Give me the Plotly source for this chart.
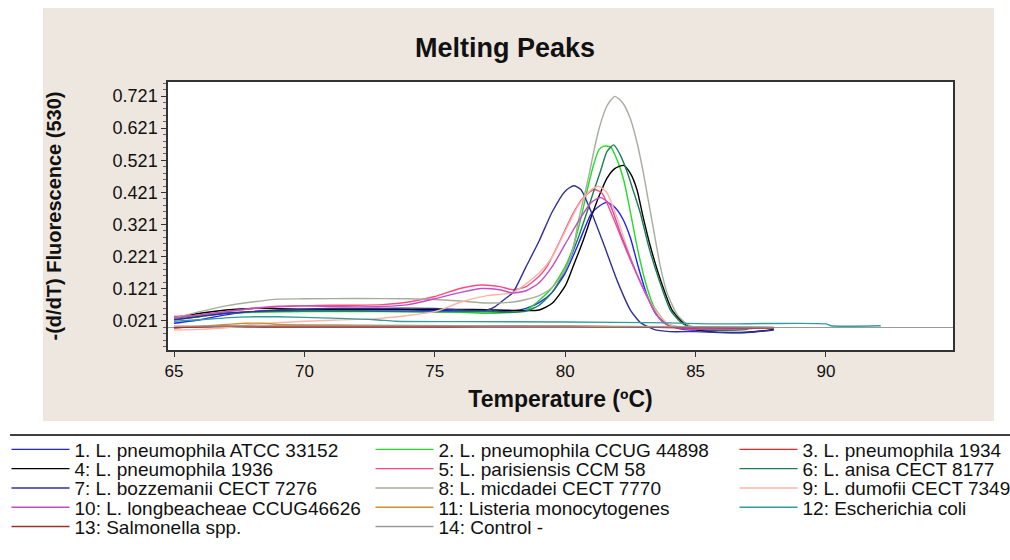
import plotly.graph_objects as go

# ---------------- data ----------------
TITLE = "Melting Peaks"
X_TITLE = "Temperature (ºC)"
Y_TITLE = "-(d/dT) Fluorescence (530)"

X_TICKS = [65, 70, 75, 80, 85, 90]
Y_TICKS = [0.021, 0.121, 0.221, 0.321, 0.421, 0.521, 0.621, 0.721]
Y_TICK_LABELS = ["0.021", "0.121", "0.221", "0.321", "0.421", "0.521", "0.621", "0.721"]

NAMES = [
    "1. L. pneumophila ATCC 33152",
    "2. L. pneumophila CCUG 44898",
    "3. L. pneumophila 1934",
    "4: L. pneumophila 1936",
    "5: L. parisiensis CCM 58",
    "6: L. anisa CECT 8177",
    "7: L. bozzemanii CECT 7276",
    "8: L. micdadei CECT 7770",
    "9: L. dumofii CECT 7349",
    "10: L. longbeacheae CCUG46626",
    "11: Listeria monocytogenes",
    "12: Escherichia coli",
    "13: Salmonella spp.",
    "14: Control -",
]
COLORS = [
    "#1f1fff", "#22dd22", "#ff2020", "#000000", "#ff4a80", "#1d7d55", "#30309a",
    "#a4ae9c", "#ffb4a4", "#c050c0", "#d09030", "#339c9c", "#a03030", "#9a9a9a",
]

T01 = [65, 66, 67, 68, 70, 72, 74, 76, 77, 78, 78.5, 79, 79.5, 80, 80.5, 81, 81.3, 81.6,
       81.9, 82.2, 82.5, 82.8, 83.1, 83.5, 83.9, 84.5, 85.5, 87]
V01 = [0.014, 0.025, 0.04, 0.05, 0.055, 0.055, 0.055, 0.052, 0.05, 0.052, 0.06, 0.078, 0.11,
       0.17, 0.26, 0.355, 0.378, 0.39, 0.375, 0.34, 0.28, 0.19, 0.11, 0.04, 0.01, -0.005,
       -0.008, -0.005]

T02 = [65, 67, 70, 73, 76, 77, 78, 78.5, 79, 79.5, 80, 80.3, 80.6, 80.85, 81.1, 81.3, 81.5,
       81.75, 82, 82.25, 82.5, 82.75, 83.05, 83.4, 83.9, 84.5, 86, 88]
V02 = [0.03, 0.045, 0.05, 0.05, 0.048, 0.045, 0.048, 0.055, 0.085, 0.125, 0.19, 0.25, 0.34,
       0.43, 0.51, 0.555, 0.565, 0.562, 0.52, 0.458, 0.36, 0.255, 0.15, 0.066, 0.014, 0.0,
       -0.005, 0.0]

T03 = [65, 67, 68.4, 72, 75.4, 78, 82, 85, 88]
V03 = [0.0, 0.005, 0.003, 0.003, 0.003, 0.004, 0.003, 0.0, 0.0]

T04 = [65, 66, 67, 68, 70, 72, 74, 76, 77, 78, 79, 79.5, 80, 80.3, 80.7, 81, 81.3, 81.6,
       81.9, 82.24, 82.5, 82.75, 83, 83.26, 83.65, 84.1, 84.6, 85, 85.5, 86.5, 87.5, 88]
V04 = [0.03, 0.045, 0.055, 0.06, 0.058, 0.057, 0.057, 0.057, 0.056, 0.054, 0.055, 0.076,
       0.13, 0.19, 0.274, 0.345, 0.41, 0.465, 0.495, 0.505, 0.48, 0.43, 0.34, 0.255, 0.15,
       0.055, 0.01, -0.005, -0.012, -0.015, -0.01, -0.005]

T05 = [65, 66, 67, 68, 69, 70, 71, 72, 73, 74, 75, 76, 76.8, 77.5, 78, 78.5, 79, 79.3, 79.8,
       80.3, 80.7, 81.1, 81.4, 81.8, 82.1, 82.4, 82.9, 83.4, 83.8, 84.3, 85, 86, 88]
V05 = [0.035, 0.04, 0.05, 0.06, 0.065, 0.068, 0.07, 0.07, 0.072, 0.08, 0.097, 0.123, 0.133,
       0.128, 0.118, 0.128, 0.16, 0.19, 0.27, 0.355, 0.405, 0.43, 0.42, 0.35, 0.29, 0.23,
       0.138, 0.055, 0.014, 0.0, -0.005, -0.005, 0.0]

T06 = [65, 66, 67, 68, 70, 72, 74, 75.5, 77, 78, 78.5, 79, 79.5, 80, 80.5, 80.84, 81.09,
       81.35, 81.6, 81.86, 82.11, 82.37, 82.62, 82.88, 83.2, 83.6, 84.03, 84.48, 85, 86, 87]
V06 = [0.025, 0.035, 0.045, 0.05, 0.052, 0.052, 0.05, 0.05, 0.05, 0.048, 0.052, 0.07, 0.11,
       0.18, 0.28, 0.361, 0.424, 0.486, 0.548, 0.569, 0.538, 0.486, 0.424, 0.357, 0.253,
       0.149, 0.055, 0.014, -0.002, -0.008, -0.005]

T07 = [65, 66, 67, 68, 69, 70, 71, 72, 73, 74, 75, 76, 77, 77.3, 77.7, 78, 78.5, 79, 79.5,
       80, 80.33, 80.6, 81, 81.5, 82, 82.5, 82.9, 83.4, 84, 85, 86, 87, 88]
V07 = [0.025, 0.035, 0.045, 0.05, 0.055, 0.058, 0.06, 0.06, 0.06, 0.061, 0.06, 0.055, 0.055,
       0.065, 0.09, 0.11, 0.19, 0.27, 0.36, 0.425, 0.442, 0.43, 0.36, 0.255, 0.145, 0.055,
       0.015, -0.005, -0.012, -0.012, -0.015, -0.015, -0.007]

T08 = [65, 66, 67, 68, 69, 70, 72, 74, 75, 76, 77, 78, 78.5, 79, 79.5, 80, 80.3, 80.5, 80.7,
       80.9, 81.1, 81.3, 81.6, 81.9, 82.2, 82.5, 82.8, 83, 83.2, 83.4, 83.65, 83.9, 84.3,
       84.7, 85.1, 86, 88]
V08 = [0.03, 0.05, 0.068, 0.08, 0.089, 0.09, 0.091, 0.09, 0.088, 0.083, 0.077, 0.08, 0.088,
       0.1, 0.125, 0.18, 0.245, 0.33, 0.4, 0.47, 0.55, 0.62, 0.69, 0.72, 0.7, 0.65, 0.56,
       0.48, 0.39, 0.3, 0.19, 0.11, 0.04, 0.01, 0.0, -0.003, 0.0]

T09 = [65, 66, 67, 68, 70, 73, 75, 76, 77, 78, 79, 79.5, 80, 80.5, 81, 81.3, 81.6, 82, 82.5,
       83, 83.5, 84, 85, 87]
V09 = [-0.007, -0.005, 0.0, 0.01, 0.02, 0.03, 0.05, 0.08, 0.1, 0.11, 0.17, 0.22, 0.3, 0.38,
       0.43, 0.44, 0.42, 0.34, 0.22, 0.12, 0.05, 0.01, 0.0, 0.0]

T10 = [65, 66, 67, 68, 69, 70, 71, 72, 73, 74, 75, 76, 76.8, 77.5, 78, 78.5, 79, 79.5, 80,
       80.5, 81, 81.35, 81.7, 82.12, 82.63, 83.14, 83.6, 84, 85, 86, 88]
V10 = [0.03, 0.04, 0.05, 0.06, 0.067, 0.068, 0.066, 0.065, 0.066, 0.072, 0.09, 0.11, 0.122,
       0.118, 0.108, 0.115, 0.14, 0.19, 0.26, 0.33, 0.39, 0.405, 0.385, 0.294, 0.19, 0.097,
       0.03, 0.005, -0.004, -0.004, 0.0]

T11 = [65, 66, 67, 67.75, 68.4, 69, 72, 76, 80, 84, 88]
V11 = [0.0, 0.005, 0.01, 0.014, 0.014, 0.01, 0.008, 0.006, 0.004, 0.002, 0.0]

T12 = [65, 66, 67.5, 69, 71, 72.7, 73.5, 76, 80, 84, 85.5, 86.3, 90, 90.2, 92.1]
V12 = [0.02, 0.025, 0.033, 0.034, 0.03, 0.025, 0.02, 0.019, 0.018, 0.015, 0.012, 0.012,
       0.012, 0.006, 0.006]

T13 = [65, 67, 68.4, 72, 75.4, 78, 82, 85, 88]
V13 = [0.0, 0.005, 0.003, 0.003, 0.003, 0.004, 0.003, 0.0, 0.0]

T14 = [65, 70, 75, 80, 85, 88]
V14 = [0.005, 0.006, 0.006, 0.005, 0.003, 0.002]

SERIES_T = [T01, T02, T03, T04, T05, T06, T07, T08, T09, T10, T11, T12, T13, T14]
SERIES_V = [V01, V02, V03, V04, V05, V06, V07, V08, V09, V10, V11, V12, V13, V14]

# ---------------- layout geometry (pixels) ----------------
W, H = 1010, 560
PL, PR, PT, PB = 168, 953, 82, 350
PW, PH = PR - PL, PB - PT


def px(x):
    return (x - PL) / PW


def py(y):
    return (PB - y) / PH


FONT = "Liberation Sans, Arial, sans-serif"

fig = go.Figure()
LEG_COL_X = [6.5, 370.5, 734.5]
LEG_ROW0 = 430.5
LEG_ROW_STEP = 19.3
legends = {}
for i, (name, col, t, v) in enumerate(zip(NAMES, COLORS, SERIES_T, SERIES_V)):
    lid = "legend" if i == 0 else f"legend{i + 1}"
    fig.add_trace(go.Scatter(
        x=t, y=v, mode="lines", name=name,
        line=dict(color=col, width=1.4, shape="spline", smoothing=0.6),
        legend=lid, showlegend=True, hoverinfo="skip",
    ))
    r, c = divmod(i, 3)
    legends[lid] = dict(
        x=px(LEG_COL_X[c]), y=py(LEG_ROW0 + r * LEG_ROW_STEP),
        xanchor="left", yanchor="top", orientation="v",
        bgcolor="rgba(0,0,0,0)", borderwidth=0, itemwidth=58,
        font=dict(family=FONT, size=19, color="#111111"),
    )

shapes = [
    dict(type="rect", xref="paper", yref="paper", layer="below",
         x0=px(43), x1=px(994), y0=py(421), y1=py(8),
         fillcolor="#EEE7DF", line=dict(width=0)),
    dict(type="rect", xref="paper", yref="paper", layer="below",
         x0=0, x1=1, y0=0, y1=1, fillcolor="#FFFFFF", line=dict(width=0)),
    dict(type="line", xref="paper", yref="paper",
         x0=px(10), x1=px(1010), y0=py(435), y1=py(435),
         line=dict(color="#000000", width=1.6)),
]

fig.update_layout(
    width=W, height=H,
    margin=dict(l=PL, r=W - PR, t=PT, b=H - PB, autoexpand=False),
    paper_bgcolor="#FFFFFF", plot_bgcolor="#FFFFFF",
    title=dict(text=f"<b>{TITLE}</b>", x=0.5, xref="container", xanchor="center",
               y=1 - 48 / H, yref="container", yanchor="middle",
               font=dict(family=FONT, size=27, color="#111111")),
    xaxis=dict(
        range=[64.77, 94.87], tickmode="array", tickvals=X_TICKS,
        ticks="outside", ticklen=5, tickwidth=1, tickcolor="#333333",
        showline=True, linecolor="#333333", linewidth=1.5, mirror=True,
        showgrid=False, zeroline=False,
        tickfont=dict(family=FONT, size=17, color="#111111"),
        title=dict(text=f"<b>{X_TITLE}</b>", standoff=11,
                   font=dict(family=FONT, size=23, color="#111111")),
    ),
    yaxis=dict(
        range=[-0.0693, 0.7646], tickmode="array", tickvals=Y_TICKS, ticktext=Y_TICK_LABELS,
        ticks="outside", ticklen=5, tickwidth=1, tickcolor="#333333",
        minor=dict(tick0=0.021, dtick=0.02, ticks="outside", ticklen=3,
                   tickcolor="#666666", showgrid=False),
        showline=True, linecolor="#333333", linewidth=1.5, mirror=True,
        showgrid=False, zeroline=True, zerolinecolor="#9a9a9a", zerolinewidth=1,
        tickfont=dict(family=FONT, size=18, color="#111111"),
        title=dict(text=f"<b>{Y_TITLE}</b>", standoff=46,
                   font=dict(family=FONT, size=20, color="#111111")),
    ),
    shapes=shapes,
    showlegend=True,
    **legends,
)

fig.write_html("out.html")
